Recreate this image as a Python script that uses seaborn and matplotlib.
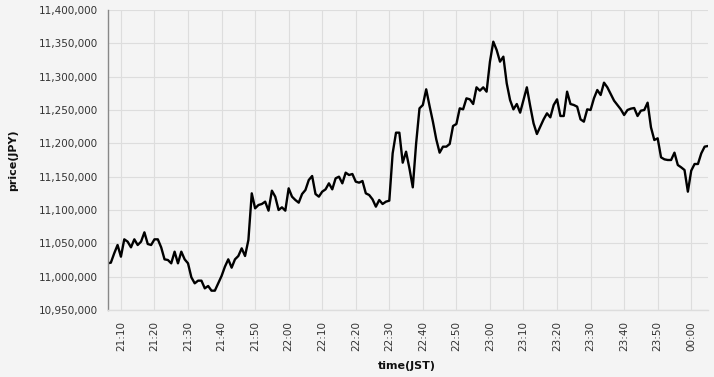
import numpy as np
import pandas as pd
import matplotlib
matplotlib.use("Agg")
import matplotlib.pyplot as plt
import matplotlib.dates as mdates
import seaborn as sns

start_time = "2021-01-01 21:06"
price = [
    11020000, 11021000, 11035000, 11047500, 11030000, 11056000, 11052500, 11044000, 11056000, 11047500,
    11052500, 11066500, 11049000, 11047500, 11056000, 11056000, 11044000, 11026000, 11025000, 11020000,
    11037500, 11020000, 11037500, 11026000, 11020000, 10999000, 10990000, 10994000, 10994000, 10982500,
    10986000, 10979000, 10979000, 10990000, 11001000, 11015000, 11026000, 11013500, 11026000, 11031000,
    11042500, 11031000, 11055000, 11125000, 11102500, 11107500, 11109000, 11112500, 11099000, 11129000,
    11120000, 11100000, 11104000, 11099000, 11132500, 11120000, 11115000, 11111000, 11124000, 11130000,
    11145000, 11151000, 11124000, 11120000, 11127500, 11131000, 11140000, 11131000, 11147500, 11150000,
    11140000, 11156000, 11152500, 11154000, 11142500, 11141000, 11143500, 11125000, 11122500, 11116000,
    11105000, 11115000, 11109000, 11112500, 11114000, 11185000, 11216000, 11216000, 11171000, 11187500,
    11162500, 11134000, 11200000, 11252500, 11257500, 11281000, 11256000, 11232500, 11206000, 11186000,
    11195000, 11195000, 11199000, 11226000, 11229000, 11252500, 11251000, 11267500, 11266000, 11259000,
    11284000, 11279000, 11284000, 11277500, 11322500, 11352500, 11340000, 11322500, 11330000, 11290000,
    11265000, 11251000, 11259000, 11246000, 11265000, 11284000, 11256000, 11230000, 11214000, 11225000,
    11236000, 11245000, 11239000, 11257500, 11266000, 11241000, 11241000, 11277500, 11259000, 11257500,
    11255000, 11236000, 11232500, 11251000, 11250000, 11267500, 11280000, 11272500, 11291000, 11284000,
    11274000, 11264000, 11257500, 11251000, 11242500, 11250000, 11252000, 11253000, 11241000, 11249000,
    11250000, 11261000, 11224000, 11205000, 11207500, 11179000, 11176000, 11175000, 11175000, 11186000,
    11167500, 11164000, 11160000, 11127500, 11159000, 11169000, 11169000, 11185000, 11195000, 11196000,
]
y_ticks = list(range(10950000, 11400001, 50000))
x_tick_labels = ["21:10", "21:20", "21:30", "21:40", "21:50", "22:00", "22:10", "22:20", "22:30",
                 "22:40", "22:50", "23:00", "23:10", "23:20", "23:30", "23:40", "23:50", "00:00"]

times = pd.date_range(start_time, periods=len(price), freq="1min")
df = pd.DataFrame({"time": times, "price": price})

sns.set_style("whitegrid")
bg = "#f4f4f4"
fig = plt.figure(figsize=(7.14, 3.77), dpi=100, facecolor=bg)
ax = fig.add_axes([107.5 / 714, 1 - 310 / 377, (708 - 107.5) / 714, 300 / 377])
ax.set_facecolor(bg)

sns.lineplot(data=df, x="time", y="price", ax=ax, color="black", linewidth=1.7)

ax.set_xlim(times[0], times[-1])
ax.set_ylim(y_ticks[0], y_ticks[-1])
ax.set_yticks(y_ticks)
ax.set_yticklabels([f"{v:,}" for v in y_ticks])

tick_times = pd.date_range("2021-01-01 21:10", "2021-01-02 00:00", freq="10min")
ax.set_xticks(tick_times)
ax.set_xticklabels(x_tick_labels, rotation=90)

ax.grid(True, color="#dddddd", linewidth=0.8)
ax.set_axisbelow(True)
for s in ["top", "right"]:
    ax.spines[s].set_visible(False)
ax.spines["left"].set_color("#888888")
ax.spines["left"].set_linewidth(1)
ax.spines["bottom"].set_color("#dddddd")
ax.spines["bottom"].set_linewidth(1)

ax.tick_params(axis="both", which="both", length=5, width=0.8, color="#888888",
               labelsize=7.5, labelcolor="#333333", pad=2)
ax.tick_params(axis="x", pad=3)

ax.set_xlabel("time(JST)", fontsize=8, fontweight="bold", color="#111111")
ax.set_ylabel("price(JPY)", fontsize=8, fontweight="bold", color="#111111")
ax.xaxis.set_label_coords((407 - 107.5) / 600.5, (310 - 366) / 300)
ax.yaxis.set_label_coords((13 - 107.5) / 600.5, 0.5)
ax.xaxis.label.set_va("center")
ax.yaxis.label.set_va("center")

fig.savefig("out.png", dpi=100, facecolor=bg)
